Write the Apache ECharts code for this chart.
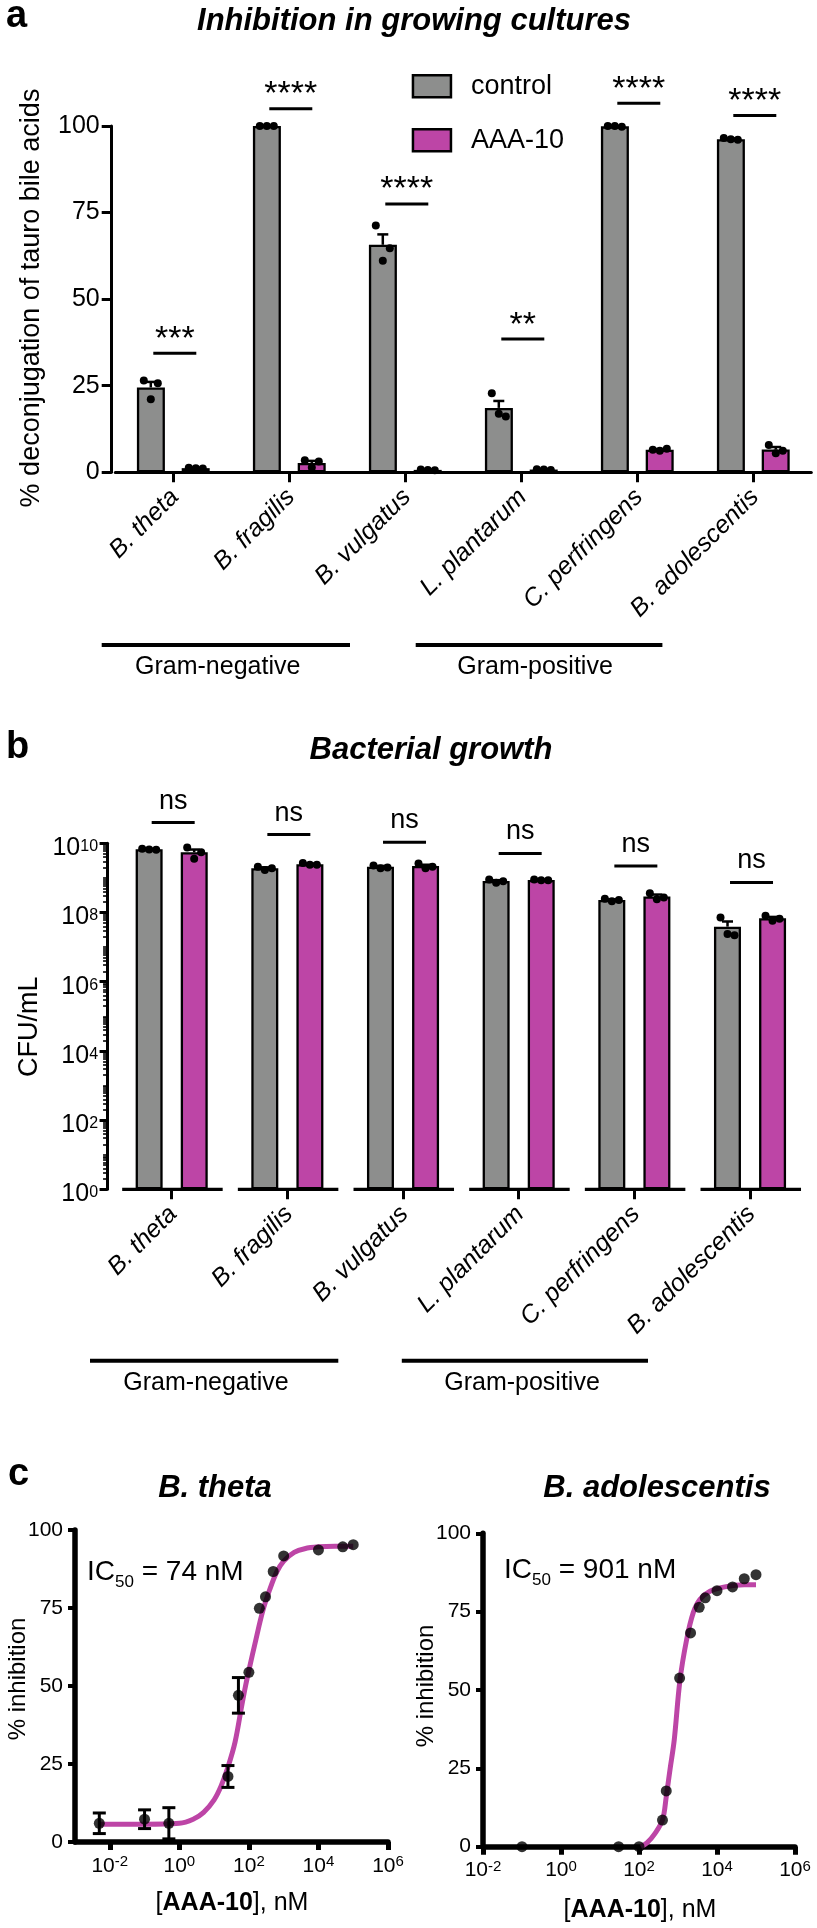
<!DOCTYPE html>
<html><head><meta charset="utf-8">
<script src="https://cdn.jsdelivr.net/npm/echarts@6/dist/echarts.min.js"></script>
<style>html,body{margin:0;padding:0;background:#fff}#c{width:817px;height:1928px}</style>
</head><body><div id="c"></div>
<script>
// ---------- data ----------
const categories = ['B. theta','B. fragilis','B. vulgatus','L. plantarum','C. perfringens','B. adolescentis'];
const seriesNames = ['control','AAA-10'];

// panel a: % deconjugation
const deconjTicks = [0,25,50,75,100];
const deconjControlMean = [24.5, 100, 65.7, 18.6, 99.9, 96.2];
const deconjControlSem  = [1.6, 0, 3.0, 2.0, 0.1, 0.2];
const deconjAAAMean     = [1.2, 2.7, 0.7, 0.8, 6.5, 6.6];
const deconjAAASem      = [0.1, 0.6, 0.1, 0.1, 0.2, 0.7];
const deconjControlPts  = [[26.5,25.7,21.1],[100,100,100],[71.3,64.7,61.1],[22.8,16.1,16.9],[100,99.8,100],[96.5,96.0,96.2]];
const deconjAAAPts      = [[1.3,1.1,1.2],[3.5,3.1,1.4],[0.8,0.6,0.7],[0.9,0.7,0.8],[6.5,6.8,6.2],[7.9,6.2,5.5]];
const deconjSig   = ['***','****','****','**','****','****'];
const deconjSigY  = [34.4, 105, 77.5, 38.5, 106.6, 103];

// panel b: CFU/mL
const cfuTicks = [1,1e2,1e4,1e6,1e8,1e10];
const cfuControlMean = [6.7e9, 1.9e9, 2.1e9, 8.1e8, 2.3e8, 3.9e7];
const cfuControlSem  = [1.5e8, 1.2e8, 1.2e8, 5e7, 1e7, 1.6e7];
const cfuAAAMean     = [5.5e9, 2.5e9, 2.2e9, 8.7e8, 2.9e8, 6.8e7];
const cfuAAASem      = [1.1e9, 1e8, 2e8, 2e7, 4e7, 6.5e6];
const cfuControlPts  = [[7.0e9,6.5e9,6.6e9],[2.1e9,1.9e9,1.7e9],[2.3e9,2.0e9,1.9e9],[9.0e8,8.0e8,7.3e8],[2.5e8,2.3e8,2.1e8],[7.2e7,2.2e7,2.4e7]];
const cfuAAAPts      = [[7.5e9,5.5e9,3.6e9],[2.7e9,2.4e9,2.4e9],[2.6e9,2.1e9,1.9e9],[9.0e8,8.6e8,8.5e8],[3.6e8,2.7e8,2.4e8],[8.0e7,6.6e7,5.8e7]];
const cfuSig  = ['ns','ns','ns','ns','ns','ns'];
const cfuSigY = [4.0e10, 1.8e10, 1.07e10, 5.1e9, 2.2e9, 7.4e8];

// panel c: dose response
const concTicks = [0.01, 1, 100, 1e4, 1e6];
const pctTicks = [0,25,50,75,100];
const thetaConc = [0.005, 0.1, 0.5, 25, 50, 100, 200, 300, 500, 1000, 10000, 50000, 100000];
const thetaInh  = [6.0, 7.3, 6.0, 21, 47, 54.4, 74.9, 78.6, 86.7, 91.7, 93.6, 94.6, 95.3];
const thetaErr  = [3.3, 3.0, 5.0, 3.5, 5.7, 0, 0, 0, 0, 0, 0, 0, 0];
const thetaFitConc = [0.005, 0.1, 1, 2.5, 5, 10, 16, 25, 40, 63, 80, 100, 160, 250, 400, 630, 1000, 2000, 4000, 10000, 30000, 100000];
const thetaFitInh  = [5.7, 5.7, 6.0, 7.3, 9.5, 13.5, 18, 24, 32, 44, 50, 55, 65, 74, 81, 86.5, 90, 92.8, 94, 94.6, 94.8, 94.8];
const adolConc = [0.1, 30, 100, 400, 500, 1100, 2100, 3500, 5000, 10000, 25000, 50000, 100000];
const adolInh  = [0, 0, 0, 8.5, 17.8, 53.8, 68.2, 76.4, 79.4, 81.7, 82.9, 85.5, 86.8];
const adolFitConc = [112, 160, 250, 400, 500, 630, 800, 1120, 1660, 2450, 3630, 6600, 15800, 50000, 100000];
const adolFitInh  = [0, 1.2, 4, 8.5, 16, 25, 34, 53, 66, 74.6, 78.9, 81.5, 82.9, 83.6, 83.6];

// ---------- styling ----------
const FONT = 'Liberation Sans';
const GRAY = '#8d8e8d', MAG = '#bd45a6', BLK = '#000';
const DODGE = 22.5, JIT = [-7, 7, 0];

function ptsData(cp, ap) {
  const d = [];
  cp.forEach((a, i) => a.forEach((v, j) => d.push([i, v, -1, j])));
  ap.forEach((a, i) => a.forEach((v, j) => d.push([i, v, 1, j])));
  return d;
}
function pointSeries(xi, yi, data, r) {
  return { type: 'custom', xAxisIndex: xi, yAxisIndex: yi, clip: false, z: 6, data,
    renderItem: (p, api) => {
      const c = api.coord([api.value(0), api.value(1)]);
      return { type: 'circle', shape: { cx: c[0] + api.value(2) * DODGE + JIT[api.value(3)], cy: c[1], r }, style: { fill: BLK } };
    } };
}
function errSeries(xi, yi, means, sems, dodge) {
  return { type: 'custom', xAxisIndex: xi, yAxisIndex: yi, clip: false, z: 5,
    data: means.map((m, i) => [i, m, m + sems[i]]),
    renderItem: (p, api) => {
      const b = api.coord([api.value(0), api.value(1)]);
      const t = api.coord([api.value(0), api.value(2)]);
      const x = b[0] + dodge * DODGE;
      const st = { stroke: BLK, lineWidth: 2.5 };
      return { type: 'group', children: [
        { type: 'line', shape: { x1: x, y1: b[1], x2: x, y2: t[1] }, style: st },
        { type: 'line', shape: { x1: x - 5.5, y1: t[1], x2: x + 5.5, y2: t[1] }, style: st }
      ] };
    } };
}
function sigSeries(xi, yi, ys, texts, fs, dy) {
  return { type: 'custom', xAxisIndex: xi, yAxisIndex: yi, clip: false, z: 5,
    data: ys.map((v, i) => [i, v]),
    renderItem: (p, api) => {
      const c = api.coord([api.value(0), api.value(1)]);
      const x = c[0] + 1.5;
      return { type: 'group', children: [
        { type: 'line', shape: { x1: x - 21.5, y1: c[1], x2: x + 21.5, y2: c[1] }, style: { stroke: BLK, lineWidth: 3 } },
        { type: 'text', x: x, y: c[1] - dy, style: { text: texts[p.dataIndex], fill: BLK, fontSize: fs, fontFamily: FONT, align: 'center', verticalAlign: 'middle' } }
      ] };
    } };
}
function catLabelSeries(xi, yi, base) {
  return { type: 'custom', xAxisIndex: xi, yAxisIndex: yi, clip: false, z: 5,
    data: categories.map((c, i) => [i, base]),
    renderItem: (p, api) => {
      const c = api.coord([api.value(0), api.value(1)]);
      return { type: 'text', x: c[0] + 1.5, y: c[1] + 21, rotation: Math.PI / 4,
        style: { text: categories[p.dataIndex], fill: BLK, fontSize: 25, fontStyle: 'italic', fontFamily: FONT, align: 'right', verticalAlign: 'middle' } };
    } };
}
const supFmt = v => '{b|10}{s|' + Math.round(Math.log10(v)) + '}';
function barSeries(xi, yi, name, data, color, w, gap) {
  return { type: 'bar', name, xAxisIndex: xi, yAxisIndex: yi, data, barWidth: w, barGap: gap, z: 2,
    itemStyle: { color, borderColor: BLK, borderWidth: 2.3 } };
}
const catAxis = (gi, showLine) => ({
  type: 'category', gridIndex: gi, data: categories,
  axisLine: { show: showLine, onZero: false, lineStyle: { color: BLK, width: 3 } },
  axisTick: { show: true, alignWithLabel: true, length: 10, lineStyle: { color: BLK, width: 3 } },
  axisLabel: { show: false },
  splitLine: { show: false }
});
const pctAxis = (gi, w, tickW, tickL, fs, offset) => ({
  type: 'value', gridIndex: gi, min: 0, max: 100, interval: 25, offset,
  axisLine: { show: true, onZero: false, lineStyle: { color: BLK, width: w } },
  axisTick: { show: true, length: tickL, lineStyle: { color: BLK, width: tickW } },
  axisLabel: { fontSize: fs, fontFamily: FONT, color: BLK, margin: 12 },
  splitLine: { show: false }
});
const concAxis = (gi, min) => ({
  type: 'log', logBase: 10, gridIndex: gi, min, max: 1e6,
  axisLine: { show: true, onZero: false, lineStyle: { color: BLK, width: 5.5 } },
  axisTick: { show: true, customValues: concTicks, length: 8, lineStyle: { color: BLK, width: 5 } },
  axisLabel: { customValues: concTicks, formatter: supFmt, margin: 9.5,
    rich: { b: { fontSize: 21, lineHeight: 21, padding: [8, 0, 0, 0], fontFamily: FONT, color: BLK },
            s: { fontSize: 15, lineHeight: 15, padding: [3, 0, 0, 0], verticalAlign: 'top', fontFamily: FONT, color: BLK } } },
  splitLine: { show: false }, minorTick: { show: false }
});
const minorCfu = [];
for (let e = 0; e < 10; e++) for (let m = 2; m <= 10; m++) { if (!(m === 10 && (e + 1) % 2 === 0)) minorCfu.push(m * Math.pow(10, e)); }

const txt = (x, y, text, fs, extra, rotation) => ({ type: 'text', x, y, rotation: rotation || 0, silent: true,
  style: Object.assign({ text, fontSize: fs, fontFamily: FONT, fill: BLK, align: 'center', verticalAlign: 'middle' }, extra || {}) });
const hline = (x1, x2, y, w) => ({ type: 'line', silent: true, shape: { x1, y1: y, x2, y2: y }, style: { stroke: BLK, lineWidth: w } });
const icRich = { b: { fontSize: 28, lineHeight: 28, padding: [0, 0, 9, 0], fontFamily: FONT, fill: BLK },
                 s: { fontSize: 17, lineHeight: 17, verticalAlign: 'bottom', fontFamily: FONT, fill: BLK } };
const xtRich = { b: { fontSize: 25, fontWeight: 'bold', fontFamily: FONT, fill: BLK } };
const R90 = Math.PI / 2;

const option = {
  animation: false,
  textStyle: { fontFamily: FONT },
  legend: { data: seriesNames, orient: 'vertical', left: 411.7, top: 72.7, padding: 0, selectedMode: false,
    itemWidth: 38, itemHeight: 22, itemGap: 27, icon: 'rect',
    itemStyle: { borderColor: BLK, borderWidth: 2.5 },
    textStyle: { fontSize: 27, color: BLK, fontFamily: FONT, padding: [0, 0, 0, 15], lineHeight: 22 } },
  grid: [
    { left: 115.3, top: 126, width: 696, height: 346.3 },
    { left: 113.85, top: 843.3, width: 694, height: 346 },
    { left: 75, top: 1530, width: 313, height: 312 },
    { left: 483, top: 1533.3, width: 312, height: 313.4 }
  ],
  xAxis: [ catAxis(0, true), catAxis(1, false), concAxis(2, 0.001), concAxis(3, 0.01) ],
  yAxis: [
    pctAxis(0, 3, 3, 10, 25, 3.6),
    { type: 'log', logBase: 10, gridIndex: 1, position: 'left', min: 1, max: 1e10, offset: 6.3,
      axisLine: { show: true, onZero: false, lineStyle: { color: BLK, width: 3 } },
      axisTick: { show: true, customValues: cfuTicks, length: 8, lineStyle: { color: BLK, width: 3 } },
      axisLabel: { customValues: cfuTicks, formatter: supFmt, margin: 9.5,
        rich: { b: { fontSize: 25, lineHeight: 25, padding: [10, 0, 0, 0], fontFamily: FONT, color: BLK },
                s: { fontSize: 16, lineHeight: 16, padding: [8, 0, 0, 0], verticalAlign: 'top', fontFamily: FONT, color: BLK } } },
      splitLine: { show: false }, minorTick: { show: false } },
    { type: 'log', logBase: 10, gridIndex: 1, position: 'left', min: 1, max: 1e10, offset: 6.3,
      axisLine: { show: false }, axisLabel: { show: false }, splitLine: { show: false },
      axisTick: { show: true, customValues: minorCfu, length: 4.5, lineStyle: { color: BLK, width: 1.6 } } },
    pctAxis(2, 5.5, 4, 7, 21, 0),
    pctAxis(3, 5.5, 4, 7, 21, 0)
  ],
  series: [
    barSeries(0, 0, seriesNames[0], deconjControlMean, GRAY, 28, '60%'),
    barSeries(0, 0, seriesNames[1], deconjAAAMean, MAG, 28, '60%'),
    errSeries(0, 0, deconjControlMean, deconjControlSem, -1),
    errSeries(0, 0, deconjAAAMean, deconjAAASem, 1),
    pointSeries(0, 0, ptsData(deconjControlPts, deconjAAAPts), 4),
    sigSeries(0, 0, deconjSigY, deconjSig, 34, 13.8),
    catLabelSeries(0, 0, 0),

    barSeries(1, 1, seriesNames[0], cfuControlMean, GRAY, 27, '67%'),
    barSeries(1, 1, seriesNames[1], cfuAAAMean, MAG, 27, '67%'),
    errSeries(1, 1, cfuControlMean, cfuControlSem, -1),
    errSeries(1, 1, cfuAAAMean, cfuAAASem, 1),
    pointSeries(1, 1, ptsData(cfuControlPts, cfuAAAPts), 4),
    sigSeries(1, 1, cfuSigY, cfuSig, 27, 21.4),
    catLabelSeries(1, 1, 1),
    { type: 'custom', xAxisIndex: 1, yAxisIndex: 1, clip: false, z: 4,
      data: categories.map((c, i) => [i, 1]),
      renderItem: (p, api) => { const c = api.coord([api.value(0), api.value(1)]);
        return { type: 'line', shape: { x1: c[0] - 49.5, y1: c[1], x2: c[0] + 51, y2: c[1] }, style: { stroke: BLK, lineWidth: 3.3 } }; } },

    { type: 'line', xAxisIndex: 2, yAxisIndex: 3, data: thetaFitConc.map((x, i) => [x, thetaFitInh[i]]),
      showSymbol: false, smooth: 0.35, clip: false, lineStyle: { color: MAG, width: 5 }, z: 3 },
    { type: 'custom', xAxisIndex: 2, yAxisIndex: 3, clip: false, z: 4,
      data: thetaConc.map((x, i) => [x, thetaInh[i] - thetaErr[i], thetaInh[i] + thetaErr[i]]).filter((d, i) => thetaErr[i] > 0),
      renderItem: (p, api) => { const a = api.coord([api.value(0), api.value(1)]), b = api.coord([api.value(0), api.value(2)]);
        const st = { stroke: BLK, lineWidth: 3 };
        return { type: 'group', children: [
          { type: 'line', shape: { x1: a[0], y1: a[1], x2: b[0], y2: b[1] }, style: st },
          { type: 'line', shape: { x1: a[0] - 6.5, y1: a[1], x2: a[0] + 6.5, y2: a[1] }, style: st },
          { type: 'line', shape: { x1: b[0] - 6.5, y1: b[1], x2: b[0] + 6.5, y2: b[1] }, style: st } ] }; } },
    { type: 'scatter', xAxisIndex: 2, yAxisIndex: 3, data: thetaConc.map((x, i) => [x, thetaInh[i]]),
      symbolSize: 11, clip: false, itemStyle: { color: BLK }, z: 5 },

    { type: 'line', xAxisIndex: 3, yAxisIndex: 4, data: adolFitConc.map((x, i) => [x, adolFitInh[i]]),
      showSymbol: false, smooth: 0.35, clip: false, lineStyle: { color: MAG, width: 5 }, z: 3 },
    { type: 'scatter', xAxisIndex: 3, yAxisIndex: 4, data: adolConc.map((x, i) => [x, adolInh[i]]),
      symbolSize: 11, clip: false, itemStyle: { color: BLK }, z: 5 }
  ],
  graphic: [
    txt(6, 17, 'a', 38, { fontWeight: 'bold', align: 'left' }),
    txt(414, 21, 'Inhibition in growing cultures', 31, { fontWeight: 'bold', fontStyle: 'italic' }),
    txt(31.7, 298, '% deconjugation of tauro bile acids', 27, null, R90),
    hline(101.7, 350, 645, 4), hline(415.7, 662.4, 645, 4),
    txt(217.7, 667, 'Gram-negative', 25), txt(535, 667, 'Gram-positive', 25),

    txt(6, 748, 'b', 38, { fontWeight: 'bold', align: 'left' }),
    txt(431, 750, 'Bacterial growth', 31, { fontWeight: 'bold', fontStyle: 'italic' }),
    txt(30, 1026.7, 'CFU/mL', 27, null, R90),
    hline(90, 338.3, 1360.7, 4), hline(401.8, 648, 1360.7, 4),
    txt(206, 1383, 'Gram-negative', 25), txt(522, 1383, 'Gram-positive', 25),

    txt(8, 1475, 'c', 38, { fontWeight: 'bold', align: 'left' }),
    txt(215, 1488, 'B. theta', 31, { fontWeight: 'bold', fontStyle: 'italic' }),
    txt(657, 1488, 'B. adolescentis', 31, { fontWeight: 'bold', fontStyle: 'italic' }),
    txt(18, 1679, '% inhibition', 24, null, R90),
    txt(426, 1686, '% inhibition', 24, null, R90),
    txt(232, 1903, '[{b|AAA-10}], nM', 25, { rich: xtRich }),
    txt(640, 1910, '[{b|AAA-10}], nM', 25, { rich: xtRich }),
    txt(87, 1563, '{b|IC}{s|50}{b| = 74 nM}', 28, { align: 'left', verticalAlign: 'top', rich: icRich }),
    txt(504, 1561, '{b|IC}{s|50}{b| = 901 nM}', 28, { align: 'left', verticalAlign: 'top', rich: icRich })
  ]
};
const chart = echarts.init(document.getElementById('c'));
chart.setOption(option);
</script></body></html>
